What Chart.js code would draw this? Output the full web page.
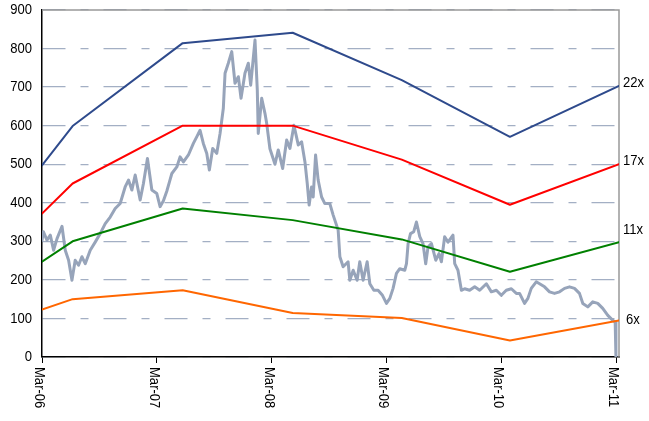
<!DOCTYPE html>
<html>
<head>
<meta charset="utf-8">
<script src="https://cdn.jsdelivr.net/npm/chart.js@4.4.0/dist/chart.umd.min.js"></script>
<style>
  body { margin: 0; background: #fff; }
</style>
</head>
<body>
<canvas id="peChart" width="649" height="421"></canvas>
<script>
// x values are months counted from Mar-06
var tickMonths = [0, 12, 24, 36, 48, 60];
var tickLabels = ['Mar-06', 'Mar-07', 'Mar-08', 'Mar-09', 'Mar-10', 'Mar-11'];
var yTicks = [0, 100, 200, 300, 400, 500, 600, 700, 800, 900];

// P/E band lines
var bandMonths = [0, 3.2, 14.7, 26.2, 37.6, 48.9, 60.3];
var pe22 = [497, 599, 814, 841, 718, 571, 703];
var pe17 = [372, 450, 600, 600, 512, 395, 500];
var pe11 = [247, 300, 385, 355, 305, 221, 298];
var pe6  = [123, 150, 173, 114, 101, 43, 95];
var bandNames = ['22x', '17x', '11x', '6x'];

// share price
var priceMonths = [0, 0.14, 0.52, 0.87, 1.21, 1.57, 2.09, 2.43, 2.78, 3.13, 3.47, 3.82, 4.17, 4.52, 5.04, 5.56,
  6.08, 6.61, 7.13, 7.65, 8.17, 8.69, 9.04, 9.39, 9.74, 10.26, 10.6, 11.02, 11.48, 12.0, 12.34, 12.69, 13.04,
  13.32, 13.57, 14.09, 14.43, 14.78, 15.3, 15.82, 16.17, 16.52, 16.86, 17.22, 17.49, 17.84, 18.26, 18.61,
  18.95, 19.13, 19.47, 19.83, 20.17, 20.52, 20.8, 21.21, 21.56, 21.81, 22.26, 22.5, 22.6, 22.96, 23.3, 23.48,
  23.82, 24.35, 24.69, 25.15, 25.57, 25.91, 26.33, 26.78, 27.13, 27.48, 27.72, 27.92, 28.17, 28.34, 28.59,
  28.86, 29.22, 29.56, 30.08, 30.43, 30.95, 31.13, 31.47, 31.99, 32.17, 32.52, 32.93, 33.21, 33.56, 33.98,
  34.26, 34.68, 35.12, 35.58, 36.0, 36.35, 36.69, 37.04, 37.39, 37.91, 38.09, 38.26, 38.51, 38.85, 39.13,
  39.48, 39.82, 40.1, 40.34, 40.7, 41.15, 41.49, 41.74, 42.08, 42.43, 42.95, 43.13, 43.47, 43.83, 44.17,
  44.69, 45.22, 45.74, 46.44, 46.96, 47.48, 48.0, 48.52, 49.05, 49.57, 49.91, 50.43, 50.78, 51.13, 51.65,
  52.0, 52.52, 53.04, 53.56, 54.09, 54.61, 55.13, 55.65, 56.17, 56.52, 57.04, 57.56, 58.08, 58.6, 59.13,
  59.65, 59.9, 59.98];
var priceValues = [303, 325, 303, 316, 277, 307, 339, 277, 251, 199, 251, 238, 260, 242, 277, 298,
  320, 346, 363, 385, 398, 441, 459, 433, 472, 407, 450, 515, 433, 424, 390, 405, 430,
  454, 476, 493, 519, 506, 524, 554, 571, 588, 554, 528, 485, 541, 528, 580,
  645, 736, 762, 792, 710, 727, 671, 736, 762, 705, 822, 692, 580, 671, 632, 606,
  540, 500, 537, 489, 563, 541, 601, 550, 558, 506, 450, 394, 441, 415, 524,
  459, 415, 398, 398, 368, 329, 260, 234, 247, 199, 225, 199, 247, 199, 247,
  190, 173, 173, 160, 139, 152, 178, 217, 229, 225, 242, 294, 320, 325, 350,
  312, 294, 242, 285, 294, 251, 268, 247, 312, 298, 316, 242, 225, 173, 177,
  173, 182, 173, 190, 169, 173, 160, 173, 177, 165, 165, 139, 152, 178, 195,
  190, 182, 169, 165, 169, 178, 182, 178, 165, 139, 130, 143, 139, 126, 108,
  95, 91, 0];

function toPoints(xs, ys) {
  return xs.map(function (x, i) { return { x: x, y: ys[i] }; });
}

var FONT = "'Liberation Sans', Arial, sans-serif";
var NARROW = 0.87; // squeeze to look like Arial Narrow

// draw text squeezed along its reading direction
function narrowText(ctx, text, x, y, align, angle) {
  ctx.save();
  ctx.translate(x, y);
  if (angle) ctx.rotate(angle);
  ctx.scale(NARROW, 1);
  ctx.textAlign = align;
  ctx.textBaseline = 'middle';
  ctx.fillText(text, 0, 0);
  ctx.restore();
}

var extraLabels = {
  id: 'extraLabels',
  beforeDatasetsDraw: function (chart) {
    var ctx = chart.ctx, a = chart.chartArea;
    ctx.save();
    ctx.strokeStyle = '#999999';
    ctx.lineWidth = 1.5;
    ctx.beginPath();
    ctx.moveTo(a.left, a.top);
    ctx.lineTo(a.right, a.top);
    ctx.lineTo(a.right, a.bottom);
    ctx.stroke();
    ctx.restore();
  },
  afterDraw: function (chart) {
    var ctx = chart.ctx, a = chart.chartArea;
    var xs = chart.scales.x, ys = chart.scales.y;
    ctx.save();
    ctx.fillStyle = '#000';
    ctx.font = '15px ' + FONT;
    // y tick labels
    yTicks.forEach(function (v) {
      narrowText(ctx, String(v), a.left - 10, ys.getPixelForValue(v), 'right', 0);
    });
    // band names at the right end
    var nudge = [-3, -3, -12, -1];
    for (var i = 0; i < 4; i++) {
      var ds = chart.data.datasets[i];
      var last = ds.data[ds.data.length - 1];
      narrowText(ctx, bandNames[i], a.right + 4 + (i === 3 ? 3 : 0), ys.getPixelForValue(last.y) + nudge[i], 'left', 0);
    }
    // rotated date labels
    tickMonths.forEach(function (m, k) {
      narrowText(ctx, tickLabels[k], xs.getPixelForValue(m) - 3, a.bottom + 10, 'left', Math.PI / 2);
    });
    ctx.restore();
  }
};

var ctx = document.getElementById('peChart').getContext('2d');
var peChart = new Chart(ctx, {
  type: 'line',
  data: {
    datasets: [
      { label: '22x', data: toPoints(bandMonths, pe22), borderColor: '#2E4A8C', borderWidth: 2, order: 1 },
      { label: '17x', data: toPoints(bandMonths, pe17), borderColor: '#FF0000', borderWidth: 2, order: 1 },
      { label: '11x', data: toPoints(bandMonths, pe11), borderColor: '#008000', borderWidth: 2, order: 1 },
      { label: '6x', data: toPoints(bandMonths, pe6), borderColor: '#FF6600', borderWidth: 2, order: 1 },
      { label: 'Price', data: toPoints(priceMonths, priceValues), borderColor: '#97A4BA', borderWidth: 3, order: 5 }
    ]
  },
  options: {
    responsive: false,
    animation: false,
    devicePixelRatio: 1,
    layout: { padding: { top: 10, right: 30, left: 0, bottom: 0 } },
    elements: {
      point: { radius: 0 },
      line: { tension: 0, borderJoinStyle: 'round', borderCapStyle: 'round' }
    },
    plugins: { legend: { display: false }, tooltip: { enabled: false } },
    scales: {
      x: {
        type: 'linear',
        min: 0,
        max: 60.3,
        afterBuildTicks: function (scale) {
          scale.ticks = tickMonths.map(function (v) { return { value: v }; });
        },
        afterFit: function (scale) { scale.height = 64; },
        ticks: { display: false },
        grid: { drawOnChartArea: false, drawTicks: true, tickLength: 6, color: '#000', lineWidth: 1 },
        border: { display: true, color: '#000', width: 1.5 }
      },
      y: {
        min: 0,
        max: 900,
        afterBuildTicks: function (scale) {
          scale.ticks = yTicks.map(function (v) { return { value: v }; });
        },
        afterFit: function (scale) { scale.width = 42; },
        ticks: { display: false },
        grid: { color: '#A3AFC4', lineWidth: 1.3, drawTicks: false },
        border: { display: true, color: '#000', width: 1.5, dash: [23, 15, 8, 15] }
      }
    }
  },
  plugins: [extraLabels]
});
</script>
</body>
</html>
